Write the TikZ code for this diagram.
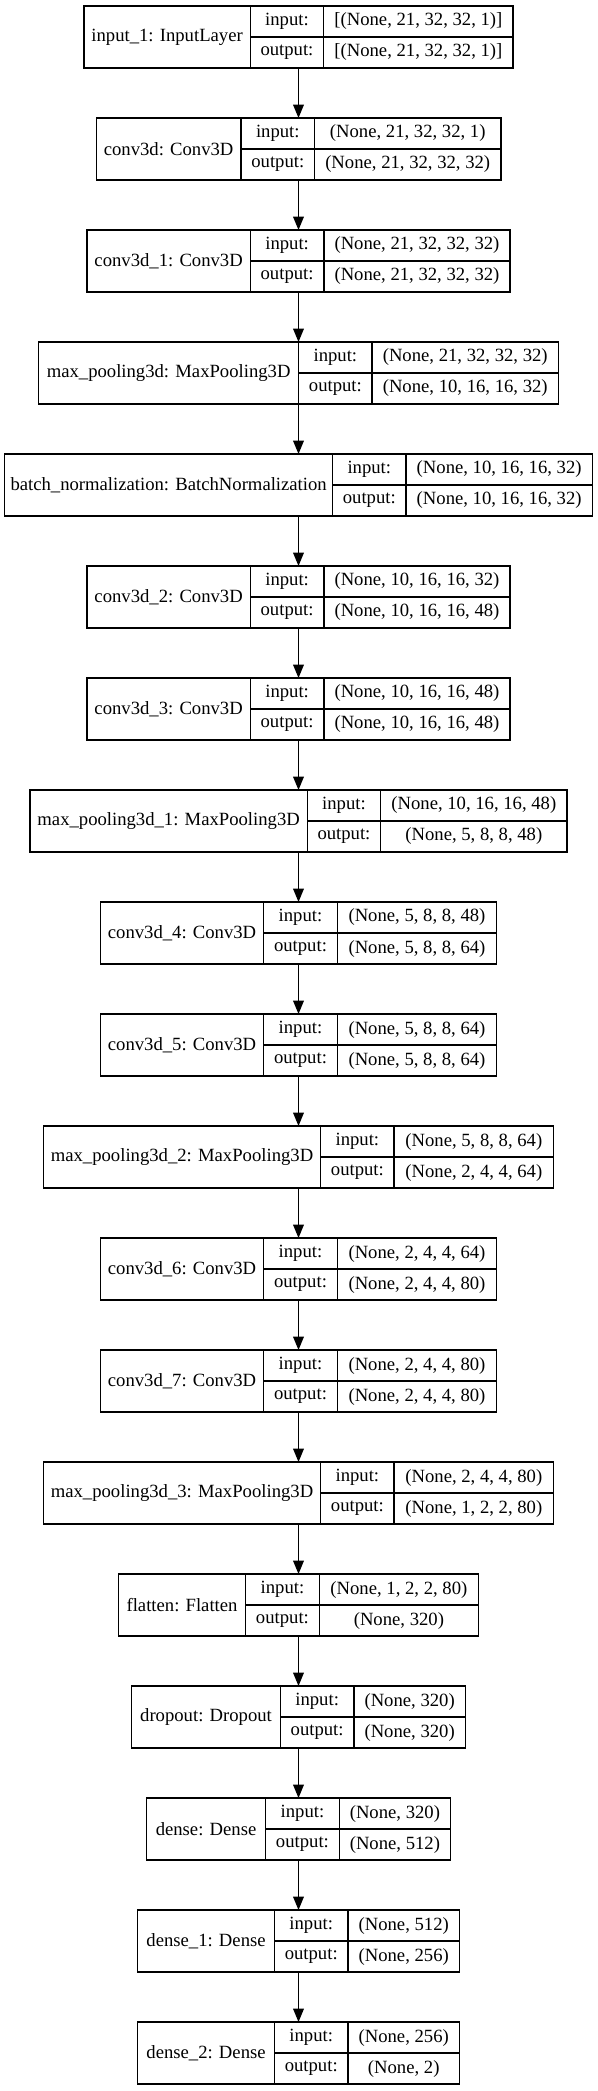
\documentclass[tikz,border=0pt]{standalone}
\usepackage{fontspec}
\setmainfont{Liberation Serif}
\usetikzlibrary{positioning,arrows.meta}

% una capa: nombre, posicion, ancho etiqueta, ancho forma, etiqueta, entrada, salida
\newcommand{\capa}[7]{%
  \node (#1) [capa, minimum width={#3pt+55.1pt+#4pt}, #2] {};
  \node (#1-n) [celda, minimum width=#3pt, minimum height=46.5pt] at (#1.north west) {#5};
  \node (#1-ie) [celda, minimum width=55.1pt] at (#1-n.north east) {input:};
  \node (#1-oe) [celda, minimum width=55.1pt] at (#1-ie.south west) {output:};
  \node (#1-iv) [celda, minimum width=#4pt] at (#1-ie.north east) {#6};
  \node (#1-ov) [celda, minimum width=#4pt] at (#1-iv.south west) {#7};
}

\begin{document}
\begin{tikzpicture}[
        capa/.style={inner sep=0pt, outer sep=0pt, minimum height=46.5pt},
        celda/.style={draw, line width=1pt, inner sep=0pt, outer sep=0pt, minimum height=23.25pt, anchor=north west, font=\fontsize{14pt}{16pt}\selectfont},
        flecha/.style={->, >={Triangle[length=10pt, width=8pt]}, line width=1pt}
    ]
    \useasboundingbox (0,0) rectangle (447.75pt,-1568.25pt);
    \capa{input1}{anchor=north, at={(223.875pt,-4.5pt)}}{124.7}{142}{input\_1: InputLayer}{[(None, 21, 32, 32, 1)]}{[(None, 21, 32, 32, 1)]}
    \capa{conv3d}{below=37.5pt of input1}{108.7}{139.7}{conv3d: Conv3D}{(None, 21, 32, 32, 1)}{(None, 21, 32, 32, 32)}
    \capa{conv3d1}{below=37.5pt of conv3d}{122.6}{139.7}{conv3d\_1: Conv3D}{(None, 21, 32, 32, 32)}{(None, 21, 32, 32, 32)}
    \capa{maxpool}{below=37.5pt of conv3d1}{195}{139.7}{max\_pooling3d: MaxPooling3D}{(None, 21, 32, 32, 32)}{(None, 10, 16, 16, 32)}
    \capa{batchnorm}{below=37.5pt of maxpool}{245.9}{139.7}{batch\_normalization: BatchNormalization}{(None, 10, 16, 16, 32)}{(None, 10, 16, 16, 32)}
    \capa{conv3d2}{below=37.5pt of batchnorm}{122.6}{139.7}{conv3d\_2: Conv3D}{(None, 10, 16, 16, 32)}{(None, 10, 16, 16, 48)}
    \capa{conv3d3}{below=37.5pt of conv3d2}{122.6}{139.7}{conv3d\_3: Conv3D}{(None, 10, 16, 16, 48)}{(None, 10, 16, 16, 48)}
    \capa{maxpool1}{below=37.5pt of conv3d3}{207.9}{139.7}{max\_pooling3d\_1: MaxPooling3D}{(None, 10, 16, 16, 48)}{(None, 5, 8, 8, 48)}
    \capa{conv3d4}{below=37.5pt of maxpool1}{122.6}{119.6}{conv3d\_4: Conv3D}{(None, 5, 8, 8, 48)}{(None, 5, 8, 8, 64)}
    \capa{conv3d5}{below=37.5pt of conv3d4}{122.6}{119.6}{conv3d\_5: Conv3D}{(None, 5, 8, 8, 64)}{(None, 5, 8, 8, 64)}
    \capa{maxpool2}{below=37.5pt of conv3d5}{207.9}{119.6}{max\_pooling3d\_2: MaxPooling3D}{(None, 5, 8, 8, 64)}{(None, 2, 4, 4, 64)}
    \capa{conv3d6}{below=37.5pt of maxpool2}{122.6}{119.6}{conv3d\_6: Conv3D}{(None, 2, 4, 4, 64)}{(None, 2, 4, 4, 80)}
    \capa{conv3d7}{below=37.5pt of conv3d6}{122.6}{119.6}{conv3d\_7: Conv3D}{(None, 2, 4, 4, 80)}{(None, 2, 4, 4, 80)}
    \capa{maxpool3}{below=37.5pt of conv3d7}{207.9}{119.6}{max\_pooling3d\_3: MaxPooling3D}{(None, 2, 4, 4, 80)}{(None, 1, 2, 2, 80)}
    \capa{flatten}{below=37.5pt of maxpool3}{95.5}{119.6}{flatten: Flatten}{(None, 1, 2, 2, 80)}{(None, 320)}
    \capa{dropout}{below=37.5pt of flatten}{111.6}{83.6}{dropout: Dropout}{(None, 320)}{(None, 320)}
    \capa{dense}{below=37.5pt of dropout}{89.5}{83.6}{dense: Dense}{(None, 320)}{(None, 512)}
    \capa{dense1}{below=37.5pt of dense}{102.7}{83.6}{dense\_1: Dense}{(None, 512)}{(None, 256)}
    \capa{dense2}{below=37.5pt of dense1}{102.7}{83.6}{dense\_2: Dense}{(None, 256)}{(None, 2)}

    \draw [flecha] (input1) -- (conv3d);
    \draw [flecha] (conv3d) -- (conv3d1);
    \draw [flecha] (conv3d1) -- (maxpool);
    \draw [flecha] (maxpool) -- (batchnorm);
    \draw [flecha] (batchnorm) -- (conv3d2);
    \draw [flecha] (conv3d2) -- (conv3d3);
    \draw [flecha] (conv3d3) -- (maxpool1);
    \draw [flecha] (maxpool1) -- (conv3d4);
    \draw [flecha] (conv3d4) -- (conv3d5);
    \draw [flecha] (conv3d5) -- (maxpool2);
    \draw [flecha] (maxpool2) -- (conv3d6);
    \draw [flecha] (conv3d6) -- (conv3d7);
    \draw [flecha] (conv3d7) -- (maxpool3);
    \draw [flecha] (maxpool3) -- (flatten);
    \draw [flecha] (flatten) -- (dropout);
    \draw [flecha] (dropout) -- (dense);
    \draw [flecha] (dense) -- (dense1);
    \draw [flecha] (dense1) -- (dense2);
\end{tikzpicture}
\end{document}
